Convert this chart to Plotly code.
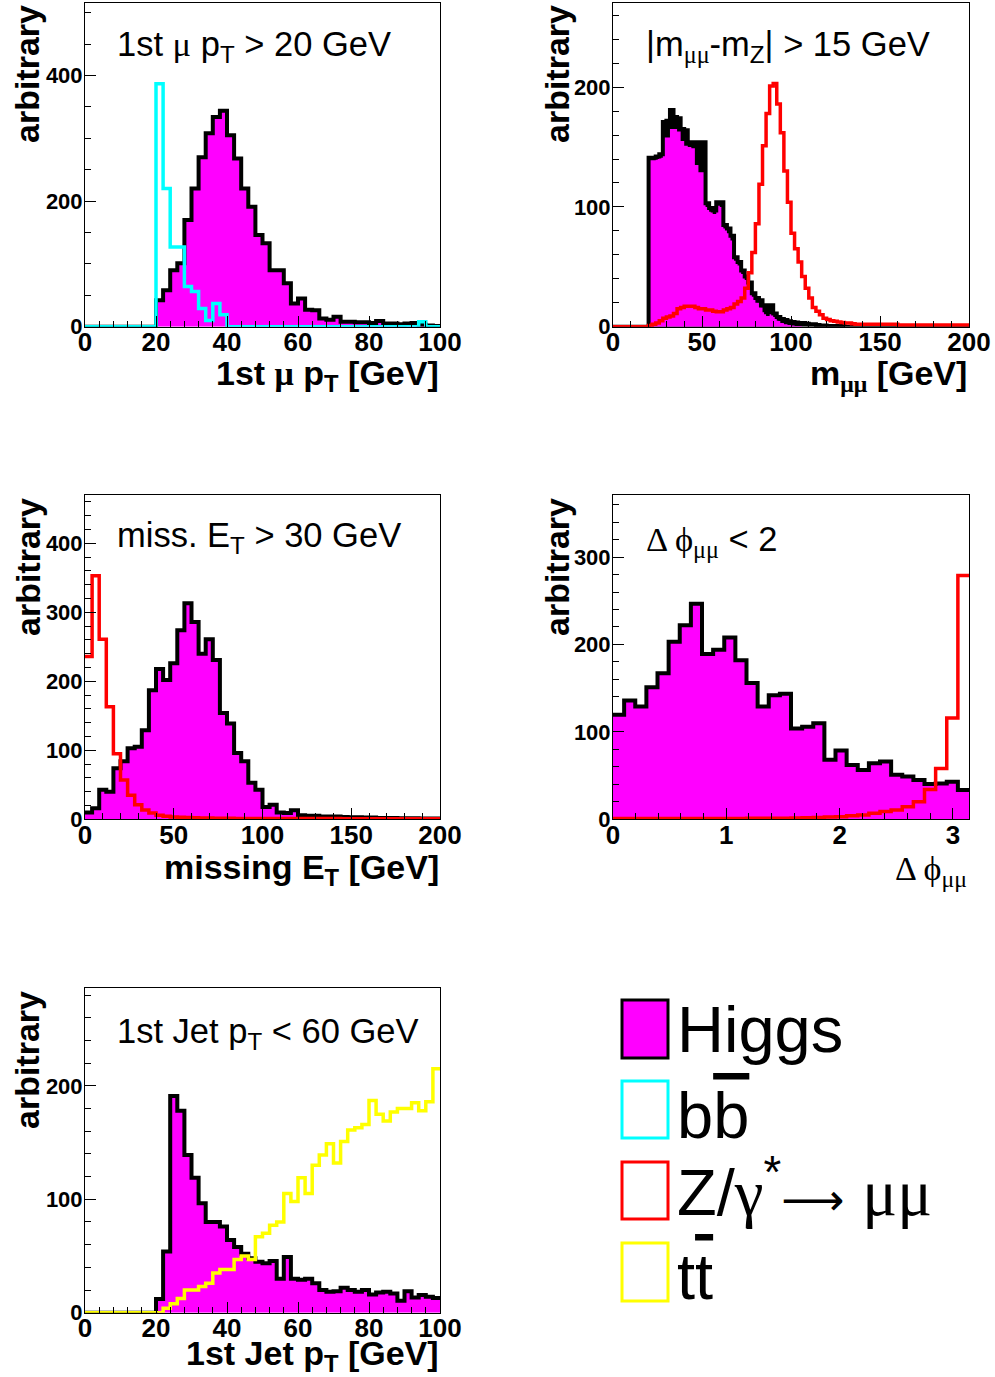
import numpy as np
import plotly.graph_objects as go

W, H = 995, 1377

# ---------------- data ----------------
# Panel 1: leading muon pT, 50 bins 0-100 GeV
mupt_range = (0, 100)
higgs_mupt = [0] * 10 + [42, 58, 90, 101, 170, 220, 270, 308, 334, 344,
                         305, 268, 220, 191, 146, 133, 90, 90, 69, 37,
                         45, 27, 26, 13, 11, 16, 8, 8, 7, 7,
                         6, 9, 5, 5, 4, 5, 6, 3, 2, 1]
bb_mupt = [0] * 10 + [387, 220, 127, 127, 64, 56, 29, 10, 37, 19] + [0] * 27 + [8, 0, 0]

# Panel 2: m_mumu, 100 bins 0-200 GeV
mmumu_range = (0, 200)
higgs_mmumu_outline = [0] * 10 + [141, 141, 142, 144, 171, 172, 181, 175, 174, 165,
                                  164, 154, 153, 154, 154, 154, 103, 99, 97, 104,
                                  104, 85, 82, 76, 58, 54, 47, 42, 37, 28,
                                  24, 22, 18, 12, 18, 11, 8, 6.5, 5.5, 4.5,
                                  4, 3.5, 3, 3, 2.5, 2, 2, 1.5, 1, 1,
                                  0.5, 0.5, 0.5, 0.5, 0.5] + [0] * 35
higgs_mmumu_fill = [0] * 10 + [139, 139, 140, 141, 158, 158, 165, 165, 163, 155,
                               151, 150, 149, 135, 129, 129, 100, 96, 94, 101,
                               100, 82, 78, 72, 55, 51, 44, 39, 33, 25,
                               20, 16, 12, 9, 12, 8, 5, 3, 2, 1.5,
                               1, 0.5, 0.5] + [0] * 47
zmm_mmumu = [0] * 10 + [1, 2, 3, 5, 7, 8, 9, 11, 15, 16,
                        17, 17, 17, 16, 15, 15, 14, 14, 13, 12.5,
                        12.5, 14, 15, 16, 19, 21, 24, 32, 45, 62,
                        86, 119, 151, 178, 201, 203, 186, 162, 130, 104,
                        78, 65, 54, 42, 32, 24, 16, 13, 10, 7,
                        6, 5, 4.5, 4, 3.5, 3, 3, 2.5] + [2] * 12 + [1.5] * 20

# Panel 3: missing ET, 50 bins 0-200 GeV
met_range = (0, 200)
higgs_met = [10, 16, 43, 40, 74, 84, 103, 105, 129, 187,
             218, 202, 226, 274, 313, 286, 240, 261, 231, 154,
             139, 96, 84, 53, 43, 18, 21, 10, 9, 13,
             6, 5, 5, 4, 4, 4, 3.5, 3, 3, 2.5,
             2.5, 2, 2, 2, 1.5, 1.5, 1.5, 1, 1, 1]
zmm_met = [236, 353, 261, 163, 95, 57, 35, 21, 13.5, 9,
           6, 4.5, 3.5, 3, 2.5, 2.2, 2, 1.8, 1.6, 1.5,
           1.4, 1.3, 1.2, 1.1] + [1] * 12 + [0.8] * 14

# Panel 4: delta phi, 32 bins 0-pi
dphi_range = (0, np.pi)
higgs_dphi = [119.5, 136, 129, 151, 167, 203, 222, 246.5,
              189, 194, 208, 182, 156, 129, 142, 143.5,
              104, 106, 110, 68, 78.6, 62, 56.5, 64,
              66, 51, 49, 45, 40.5, 41, 43, 33.6]
zmm_dphi = [0.8] * 5 + [1] * 7 + [1.2] * 4 + [1.5, 1.8, 2, 2.5, 3, 4, 5, 7,
                                              8.8, 10.7, 14.5, 20, 34, 58, 116, 279]

# Panel 5: leading jet pT, 50 bins 0-100 GeV
jetpt_range = (0, 100)
higgs_jetpt = [0] * 10 + [12, 54, 191, 178, 139, 119, 96.5, 80, 80, 76,
                          64, 58, 52, 48, 45, 43.5, 45.5, 30, 49, 30,
                          29, 30, 26, 20, 18.5, 19, 22, 20, 18.5, 20,
                          16, 17.7, 18.5, 17, 10.5, 19, 13.5, 15.5, 14, 13]
tt_jetpt = [0] * 11 + [4, 8, 12.6, 20, 20, 23, 26, 35, 38, 38,
                       47, 50, 47, 67, 70, 77, 80, 105, 98, 119,
                       105, 130, 139, 149, 132, 151, 161, 163, 166, 187,
                       175, 169, 177, 180, 180, 185, 178, 186, 215]

MAGENTA, CYAN, RED, YELLOW = "#FF00FF", "#00FFFF", "#FF0000", "#FFFF00"
FONT = "Liberation Sans, Arial, sans-serif"
SERIF = "Liberation Serif"


def step(rng, vals):
    edges = np.linspace(rng[0], rng[1], len(vals) + 1)
    return edges, list(vals) + [vals[-1]]


fig = go.Figure()


def add_hist(rng, vals, ax, color, width=3.5, fill=None):
    x, y = step(rng, vals)
    kw = {}
    if fill is not None:
        kw = dict(fill="tozeroy", fillcolor=fill)
    fig.add_trace(go.Scatter(
        x=x, y=y, mode="lines",
        line=dict(shape="hv", color=color, width=width),
        xaxis="x" + ax, yaxis="y" + ax, hoverinfo="skip", showlegend=False, **kw))


BW = 4  # black outline width
# panel 1
add_hist(mupt_range, higgs_mupt, "", "black", width=BW, fill=MAGENTA)
add_hist(mupt_range, bb_mupt, "", CYAN)
# panel 2
add_hist(mmumu_range, higgs_mmumu_outline, "2", "black", width=0, fill="black")
add_hist(mmumu_range, higgs_mmumu_fill, "2", MAGENTA, width=0, fill=MAGENTA)
add_hist(mmumu_range, higgs_mmumu_outline, "2", "black", width=BW)
add_hist(mmumu_range, zmm_mmumu, "2", RED)
# panel 3
add_hist(met_range, higgs_met, "3", "black", width=BW, fill=MAGENTA)
add_hist(met_range, zmm_met, "3", RED)
# panel 4
add_hist(dphi_range, higgs_dphi, "4", "black", width=BW, fill=MAGENTA)
add_hist(dphi_range, zmm_dphi, "4", RED)
# panel 5
add_hist(jetpt_range, higgs_jetpt, "5", "black", width=BW, fill=MAGENTA)
add_hist(jetpt_range, tt_jetpt, "5", YELLOW)


def xd(px0, px1):
    return [px0 / W, px1 / W]


def yd(py_top, py_bot):
    return [1 - py_bot / H, 1 - py_top / H]


def base_axis(dom, rng, dtick, mdtick, anchor):
    return dict(domain=dom, range=list(rng), dtick=dtick, tick0=0, anchor=anchor,
                ticks="inside", ticklen=11, tickwidth=1, tickcolor="black",
                minor=dict(dtick=mdtick, tick0=0, ticks="inside", ticklen=6,
                           tickwidth=1, tickcolor="black", showgrid=False),
                showline=True, mirror=True, linecolor="black", linewidth=1,
                showgrid=False, zeroline=False, fixedrange=True, automargin=False)


def xaxis(dom, rng, dtick, mdtick, anchor):
    d = base_axis(dom, rng, dtick, mdtick, anchor)
    d["tickfont"] = dict(family=FONT, size=26, color="black", weight="bold")
    d["ticklabelstandoff"] = -8
    return d


def yaxis(dom, rng, dtick, mdtick, anchor):
    d = base_axis(dom, rng, dtick, mdtick, anchor)
    d["tickfont"] = dict(family=FONT, size=22, color="black", weight="bold")
    d["ticklabelstandoff"] = -3
    return d


L, R = xd(85, 440), xd(613, 969)
ROW1, ROW2, ROW3 = yd(3.3, 326.7), yd(495, 819.3), yd(988.3, 1312.7)

fig.update_layout(
    width=W, height=H, margin=dict(l=0, r=0, t=0, b=0, autoexpand=False),
    paper_bgcolor="white", plot_bgcolor="white", showlegend=False,
    xaxis=xaxis(L, mupt_range, 20, 4, "y"),
    yaxis=yaxis(ROW1, (0, 515), 200, 50, "x"),
    xaxis2=xaxis(R, mmumu_range, 50, 10, "y2"),
    yaxis2=yaxis(ROW1, (0, 270), 100, 20, "x2"),
    xaxis3=xaxis(L, met_range, 50, 10, "y3"),
    yaxis3=yaxis(ROW2, (0, 470), 100, 20, "x3"),
    xaxis4=xaxis(R, dphi_range, 1, 0.2, "y4"),
    yaxis4=yaxis(ROW2, (0, 371), 100, 20, "x4"),
    xaxis5=xaxis(L, jetpt_range, 20, 4, "y5"),
    yaxis5=yaxis(ROW3, (0, 286), 100, 20, "x5"),
)


def g(ch):
    return "<span style='font-family:%s'>%s</span>" % (SERIF, ch)


MU = g("μ")
annots = []


def txt(px, py, text, size, xanchor="left", yanchor="middle", bold=False, angle=0):
    annots.append(dict(x=px / W, y=1 - py / H, xref="paper", yref="paper",
                       text=text, showarrow=False, xanchor=xanchor, yanchor=yanchor,
                       textangle=angle, borderpad=0,
                       font=dict(family=FONT, size=size, color="black",
                                 weight="bold" if bold else "normal")))


# y titles
for (cx, ty) in [(27, 4), (557, 4), (28, 497), (557, 497), (27, 990)]:
    txt(cx, ty, "arbitrary", 34, xanchor="center", yanchor="top", bold=True, angle=-90)

# cut labels
CUT = 34.5
txt(116, 46, "1st " + MU + " p<sub>T</sub> &gt; 20 GeV", CUT)
txt(645, 46, "|m<sub>" + MU + MU + "</sub>-m<sub>Z</sub>| &gt; 15 GeV", CUT)
txt(116, 538, "miss. E<sub>T</sub> &gt; 30 GeV", CUT)
txt(645, 541, g("Δ ϕ") + "<sub>" + MU + MU + "</sub> &lt; 2", CUT)
txt(116, 1033, "1st Jet p<sub>T</sub> &lt; 60 GeV", CUT)

# x titles
TT = 34
txt(440, 375, "1st " + MU + " p<sub>T</sub> [GeV]", TT, xanchor="right", bold=True)
txt(968, 375, "m<sub>" + MU + MU + "</sub> [GeV]", TT, xanchor="right", bold=True)
txt(440, 869, "missing E<sub>T</sub> [GeV]", TT, xanchor="right", bold=True)
txt(968, 871, g("Δ ϕ") + "<sub>" + MU + MU + "</sub>", TT, xanchor="right")
txt(440, 1355, "1st Jet p<sub>T</sub> [GeV]", TT, xanchor="right", bold=True)

# legend
OV = "<span style='text-decoration:overline'>%s</span>"
ARROW = "<span style='font-family:DejaVu Sans;font-size:44px'>⟶</span>"
legend_items = [("Higgs", MAGENTA, "black", 1029, 1000, 1058),
                ("b" + OV % "b", "white", CYAN, 1115, 1081, 1138),
                ("Z/" + g("γ") + "<sup>*</sup>" + ARROW + " " + g("μμ"), "white", RED, 1188, 1162, 1219),
                ("t" + OV % "t", "white", YELLOW, 1276, 1243, 1301)]
shapes = []
for label, fc, lc, cy, y0, y1 in legend_items:
    shapes.append(dict(type="rect", xref="paper", yref="paper",
                       x0=622 / W, x1=668 / W, y0=1 - y1 / H, y1=1 - y0 / H,
                       fillcolor=fc, line=dict(color=lc, width=3)))
    txt(676, cy, label, 65)

fig.update_layout(annotations=annots, shapes=shapes)
fig.write_html("out.html")
